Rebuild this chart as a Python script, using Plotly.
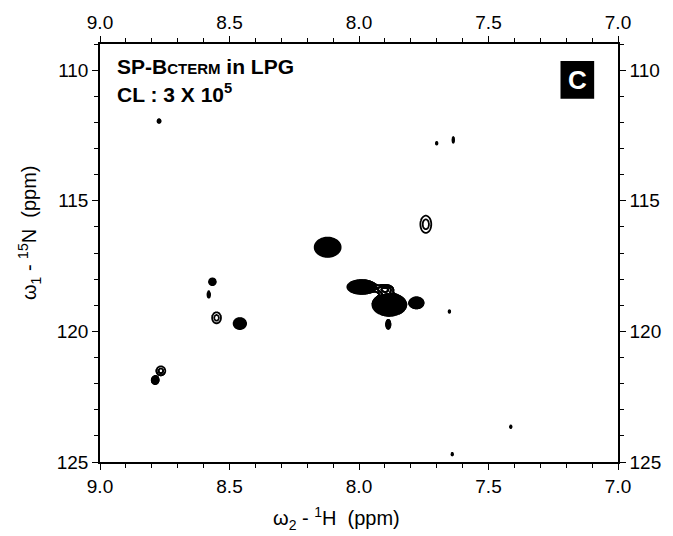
import numpy as np
import plotly.graph_objects as go

# ---- peak list (1H ppm, 15N ppm, half-extent at lowest contour, relative intensity)
peak_h   = [8.121, 7.742, 7.990, 7.900, 7.883, 7.778, 7.887, 8.566, 8.580, 8.550, 8.460, 8.765, 8.787, 8.772, 7.636, 7.700, 7.640, 7.414, 7.651]
peak_n   = [116.78, 115.90, 118.30, 118.40, 118.98, 118.91, 119.73, 118.10, 118.59, 119.48, 119.70, 121.51, 121.87, 111.95, 112.67, 112.80, 124.70, 123.65, 119.24]
peak_dh  = [0.050, 0.021, 0.055, 0.032, 0.065, 0.027, 0.008, 0.013, 0.005, 0.017, 0.024, 0.017, 0.013, 0.006, 0.003, 0.003, 0.003, 0.003, 0.003]
peak_dn  = [0.37, 0.33, 0.26, 0.18, 0.42, 0.21, 0.17, 0.13, 0.12, 0.21, 0.21, 0.17, 0.15, 0.07, 0.11, 0.05, 0.05, 0.05, 0.05]
peak_amp = [30.0, 2.0, 14.0, 2.5, 40.0, 10.0, 3.0, 6.0, 2.0, 1.9, 15.0, 1.9, 8.0, 3.0, 2.0, 2.0, 2.0, 2.0, 2.0]

x_ticks = [9.0, 8.5, 8.0, 7.5, 7.0]
y_ticks = [110, 115, 120, 125]
x_range = [9.0, 7.0]
y_range = [125, 109]

FONT = "Liberation Sans, Arial, sans-serif"

fig = go.Figure()

sig_h = [d / np.sqrt(2 * np.log(a)) for d, a in zip(peak_dh, peak_amp)]
sig_n = [d / np.sqrt(2 * np.log(a)) for d, a in zip(peak_dn, peak_amp)]

def field(X, Y):
    Z = np.zeros_like(X)
    for h, n, sh, sn, a in zip(peak_h, peak_n, sig_h, sig_n, peak_amp):
        Z += a * np.exp(-0.5 * ((X - h) / sh) ** 2 - 0.5 * ((Y - n) / sn) ** 2)
    return Z

for h, n, dh, dn in zip(peak_h, peak_n, peak_dh, peak_dn):
    xs = np.linspace(h - 2.2 * dh - 0.01, h + 2.2 * dh + 0.01, 70)
    ys = np.linspace(n - 2.2 * dn - 0.1, n + 2.2 * dn + 0.1, 70)
    X, Y = np.meshgrid(xs, ys)
    Z = np.round(field(X, Y), 4)
    fig.add_trace(go.Contour(
        x=xs, y=ys, z=Z,
        autocontour=False,
        contours=dict(start=1.0, end=60, size=0.6, coloring="lines"),
        colorscale=[[0, "black"], [1, "black"]],
        line=dict(width=1.8),
        showscale=False, hoverinfo="skip",
        xaxis="x", yaxis="y",
    ))

# invisible trace to bind the mirrored (top/right) axes
fig.add_trace(go.Scatter(x=[8.0], y=[117], mode="markers", marker=dict(opacity=0),
                         xaxis="x2", yaxis="y2", showlegend=False, hoverinfo="skip"))

axis_common = dict(
    showgrid=False, zeroline=False, showline=True, linecolor="black", linewidth=1.5,
    ticks="outside", ticklen=6, tickwidth=1.3, tickcolor="black",
    tickfont=dict(family=FONT, size=19, color="black"),
)
xlab = [f"{v:.1f}" for v in x_ticks]
L, R, T, B = 100, 51, 43, 74
W, H = 673, 536
pw, ph = W - L - R, H - T - B
fig.update_layout(
    width=W, height=H,
    margin=dict(l=L, r=R, t=T, b=B),
    paper_bgcolor="white", plot_bgcolor="white",
    showlegend=False,
    xaxis=dict(range=x_range, tickvals=x_ticks, ticktext=xlab,
               minor=dict(dtick=0.1, tick0=7.0, ticks="outside", ticklen=4, tickcolor="black"),
               **axis_common),
    xaxis2=dict(range=x_range, overlaying="x", side="top", matches="x",
                tickvals=x_ticks, ticktext=xlab,
                minor=dict(dtick=0.1, tick0=7.0, ticks="outside", ticklen=4, tickcolor="black"),
                **axis_common),
    yaxis=dict(range=y_range, tickvals=y_ticks,
               minor=dict(dtick=1, tick0=110, ticks="outside", ticklen=4, tickcolor="black"),
               **axis_common),
    yaxis2=dict(range=y_range, overlaying="y", side="right", matches="y",
                tickvals=y_ticks,
                minor=dict(dtick=1, tick0=110, ticks="outside", ticklen=4, tickcolor="black"),
                **axis_common),
)

# axis titles (positions given in pixels, converted to paper fractions)
def px(xp): return (xp - L) / pw
def py(yp): return (H - B - yp) / ph

fig.add_annotation(
    x=px(338), y=py(519), xref="paper", yref="paper", xanchor="center", yanchor="middle",
    text="ω<sub>2</sub> - <sup>1</sup>H  (ppm)",
    showarrow=False, font=dict(family=FONT, size=20, color="black"),
)
fig.add_annotation(
    x=px(29), y=py(232), xref="paper", yref="paper", xanchor="center", yanchor="middle",
    text="ω<sub>1</sub> - <sup>15</sup>N  (ppm)",
    textangle=-90, showarrow=False, font=dict(family=FONT, size=20, color="black"),
)

fig.add_annotation(
    x=8.9425, y=109.85, xref="x", yref="y", xanchor="left", yanchor="middle",
    text="<b>SP-B<span style='font-size:15px'>CTERM</span> in LPG</b>",
    showarrow=False, font=dict(family=FONT, size=21, color="black"),
)
fig.add_annotation(
    x=8.9425, y=110.88, xref="x", yref="y", xanchor="left", yanchor="middle",
    text="<b>CL : 3 X 10<sup>5</sup></b>",
    showarrow=False, font=dict(family=FONT, size=21, color="black"),
)

# panel letter box
bx0, bx1, by0, by1 = 7.222, 7.092, 109.65, 111.10
fig.add_shape(type="rect", xref="x", yref="y", x0=bx0, x1=bx1, y0=by0, y1=by1,
              fillcolor="black", line=dict(width=0))
fig.add_annotation(
    x=(bx0 + bx1) / 2, y=(by0 + by1) / 2, xref="x", yref="y",
    text="<b>C</b>", showarrow=False, font=dict(family=FONT, size=26, color="white"),
)

fig.write_html("out.html")
